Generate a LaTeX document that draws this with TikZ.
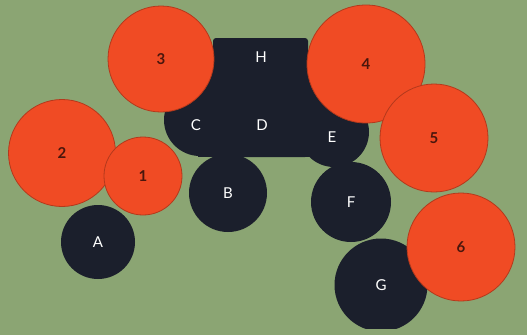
\documentclass[tikz,border=0pt]{standalone}
\usepackage{fontspec}
\setmainfont{Lato}
\usetikzlibrary{
    positioning,
    backgrounds
}
\definecolor{feltgreen}{HTML}{8BA573}
\definecolor{seatred}{HTML}{F04B24}
\definecolor{seatedge}{HTML}{B4391C}
\definecolor{tablenavy}{HTML}{1B1F2C}
\definecolor{numbrown}{HTML}{4A160C}

\begin{document}
\begin{tikzpicture}[
    x=1pt, y=-1pt,
    every node/.style={font=\fontsize{15}{15}\selectfont},
    table/.style={
        circle,
        inner sep=0pt,
        minimum size=#1,
        fill=tablenavy,
        text=white
    },
    seat/.style={
        circle,
        inner sep=0pt,
        minimum size=#1,
        fill=seatred,
        draw=seatedge,
        line width=0.8pt,
        text=numbrown,
        font=\fontsize{15}{15}\selectfont\bfseries
    },
    tag/.style={
        text=white,
        inner sep=0pt
    }
]

% =====================================================
% Background
% =====================================================

\fill[feltgreen] (0,0) rectangle (527,335);

% =====================================================
% Central block C-D-E-H
% =====================================================

\fill[tablenavy, rounded corners=3pt] (213,38) rectangle (308,157);
\fill[tablenavy] (198,50) rectangle (335,157);
\fill[tablenavy] (200,120) circle[radius=36];
\fill[tablenavy] (334,132) circle[radius=35];

\node[tag] (H) at (261,57) {H};
\node[tag] (C) at (196,125) {C};
\node[tag] (D) at (262,125) {D};
\node[tag] (E) at (332,137) {E};

% =====================================================
% Dark tables
% =====================================================

\node[table=74pt] (A) at (98,242) {A};
\node[table=78pt] (B) at (228,193) {B};
\node[table=80pt] (F) at (351,202) {F};

\begin{scope}
    \clip (0,0) rectangle (527,328);
    \node[table=93pt] (G) at (381,285) {G};
\end{scope}

% =====================================================
% Red seats
% =====================================================

\node[seat=107pt] (s2) at (62,153) {2};
\node[seat=78pt] (s1) at (143,176) {1};
\node[seat=106pt] (s3) at (161,59) {3};
\node[seat=118pt] (s4) at (366,64) {4};
\node[seat=108pt] (s5) at (434,138) {5};
\node[seat=108pt] (s6) at (461,247) {6};

\end{tikzpicture}
\end{document}
